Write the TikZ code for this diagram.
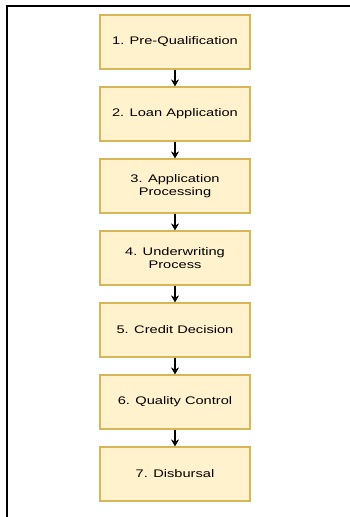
\documentclass[tikz,border=0pt]{standalone}
\usepackage{fontspec}
\setmainfont{Liberation Sans}[FakeStretch=1.33]
\usetikzlibrary{arrows.meta}
\definecolor{boxfill}{HTML}{FFF2CC}
\definecolor{boxline}{HTML}{D6B656}
\begin{document}
\begin{tikzpicture}[x=1pt,y=-1pt,
        every node/.style={rectangle,draw=boxline,fill=boxfill,line width=1.2pt,
            minimum width=150pt,minimum height=54pt,inner sep=2pt,
            align=center,font=\fontsize{11}{12.5}\selectfont,text=black}]
    \useasboundingbox (0,0) rectangle (350,517);

    \node (1) at (175,42) {1. Pre-Qualification};
    \node (2) at (175,114) {2. Loan Application};
    \node (3) at (175,186) {3. Application\\Processing};
    \node (4) at (175,258) {4. Underwriting\\Process};
    \node (5) at (175,330) {5. Credit Decision};
    \node (6) at (175,402) {6. Quality Control};
    \node (7) at (175,474) {7. Disbursal};

    \foreach \a/\b in {1/2,2/3,3/4,4/5,5/6,6/7}
        \draw[line width=1.3pt,-{Stealth[length=7pt,width=8pt]}] (\a) -- (\b);

    \draw[line width=2.6pt] (7,517) -- (7,6) -- (350,6);   % frame on top and left
\end{tikzpicture}
\end{document}
